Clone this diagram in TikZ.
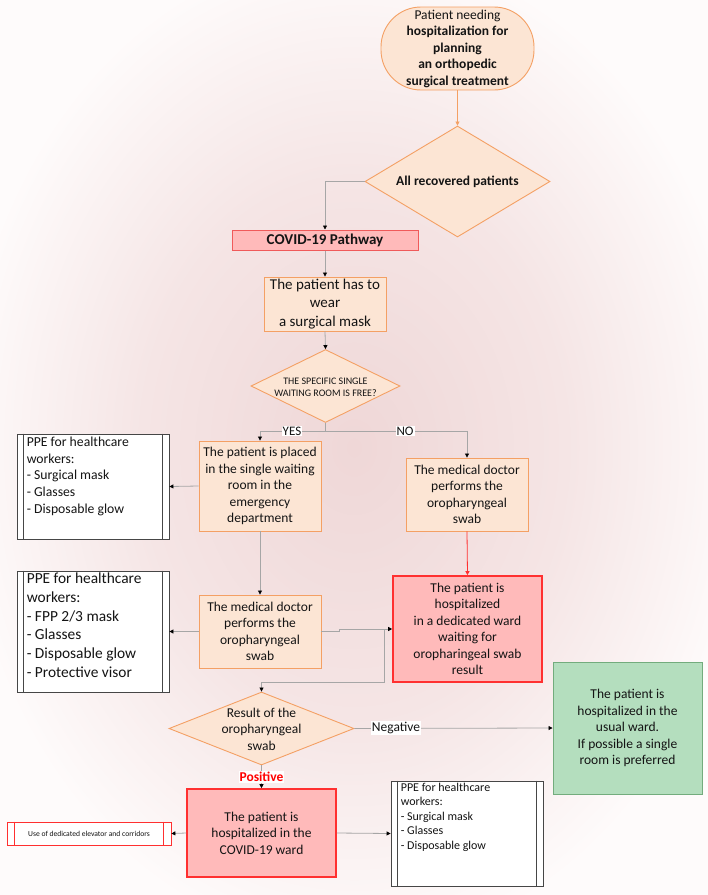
\documentclass[tikz,border=0pt]{standalone}
\usepackage{fontspec}
\setmainfont{Carlito}
\usetikzlibrary{shapes.geometric,arrows.meta}
\definecolor{bgA}{RGB}{239,215,215}
\definecolor{bgB}{RGB}{245,229,229}
\definecolor{bgC}{RGB}{254,251,251}
\definecolor{peach}{RGB}{252,229,212}
\definecolor{orng}{RGB}{244,160,100}
\definecolor{pinkf}{RGB}{255,186,186}
\definecolor{redb}{RGB}{255,48,48}
\definecolor{covb}{RGB}{240,90,90}
\definecolor{greenf}{RGB}{180,222,190}
\definecolor{greenb}{RGB}{115,172,125}
\definecolor{conng}{RGB}{166,166,166}
\definecolor{txt}{RGB}{20,20,20}
\definecolor{ppeb}{RGB}{70,70,70}
\pgfdeclareradialshading{bgrad}{\pgfpoint{0bp}{0bp}}{color(0bp)=(bgA); color(15bp)=(bgB); color(28bp)=(bgC); color(50bp)=(bgC)}
\newcommand{\fsz}[2]{\fontsize{#1}{#2}\selectfont}
\tikzset{
  base/.style={draw, inner sep=1pt, align=center, text=txt, font=\fsz{13.5}{16.5}},
  pbox/.style={base, fill=peach, draw=orng, line width=0.9pt},
  rbox/.style={base, fill=pinkf, draw=redb, line width=1.6pt},
  gbox/.style={base, fill=greenf, draw=greenb, line width=0.9pt},
  dia/.style={diamond, draw=orng, fill=peach, line width=0.9pt, inner sep=0pt},
  ppebox/.style={draw=ppeb, fill=white, line width=0.8pt, inner sep=0pt},
  ppetext/.style={inner sep=0pt, align=left, anchor=north west, text=txt},
  conn/.style={draw=conng, line width=0.8pt, -{Triangle[length=4pt,width=4pt,color=black]}},
  plain/.style={draw=conng, line width=0.8pt},
  lbl/.style={fill=white, inner sep=1pt, text=txt, font=\fsz{13}{15}},
}
\begin{document}
\begin{tikzpicture}[x=1pt,y=-1pt]
\useasboundingbox (0,0) rectangle (708,895);
\shade[shading=bgrad] (0,0) rectangle (708,895);

% nodes
\node[pbox, rounded corners=40pt, minimum width=153, minimum height=83] (top) at (457.5,48.5)
  {Patient needing\\\textbf{hospitalization for}\\\textbf{planning}\\\textbf{an orthopedic}\\\textbf{surgical treatment}};
\node[dia, minimum width=185, minimum height=111] (d1) at (457.5,181.5) {};
\node[text=txt, font=\fsz{13.5}{16.5}\bfseries] (d1t) at (d1) {All recovered patients};
\node[base, fill=pinkf, draw=covb, line width=1pt, minimum width=186, minimum height=20, inner sep=0pt,
  font=\fsz{15}{17}\bfseries] (cov) at (325,240) {COVID-19 Pathway};
\node[pbox, minimum width=122, minimum height=54, font=\fsz{15}{18.5}] (mask) at (325,304)
  {The patient has to\\wear\\a surgical mask};
\node[dia, minimum width=149, minimum height=73] (d2) at (325.5,386) {};
\node[text=txt, align=center, font=\fsz{10}{12}] (d2t) at (325.5,387) {THE SPECIFIC SINGLE\\WAITING ROOM IS FREE?};
\node[pbox, minimum width=122, minimum height=90] (yes) at (260,486)
  {The patient is placed\\in the single waiting\\room in the\\emergency\\department};
\node[pbox, minimum width=122, minimum height=73] (no) at (467,494.5)
  {The medical doctor\\performs the\\oropharyngeal\\swab};
\node[rbox, minimum width=149, minimum height=106] (red1) at (467.5,629)
  {The patient is\\hospitalized\\in a dedicated ward\\waiting for\\oropharingeal swab\\result};
\node[pbox, minimum width=122, minimum height=73] (box2) at (260,631.5)
  {The medical doctor\\performs the\\oropharyngeal\\swab};
\node[dia, minimum width=185, minimum height=73] (d3) at (261.5,728.5) {};
\node[text=txt, align=center, font=\fsz{13.5}{16.4}] (d3t) at (261.5,729) {Result of the\\oropharyngeal\\swab};
\node[gbox, minimum width=149, minimum height=132] (green) at (627.5,728)
  {The patient is\\hospitalized in the\\usual ward.\\If possible a single\\room is preferred};
\node[rbox, minimum width=149, minimum height=88] (red2) at (261.5,833)
  {The patient is\\hospitalized in the\\COVID-19 ward};

% PPE boxes
\node[ppebox, minimum width=152, minimum height=105] (ppe1) at (93,486.5) {};
\node[ppetext, font=\fsz{13.7}{16.7}] (ppe1t) at ([xshift=10pt,yshift=-3pt]ppe1.north west)
  {PPE for healthcare\\workers:\\- Surgical mask\\- Glasses\\- Disposable glow};
\node[ppebox, minimum width=152, minimum height=121] (ppe2) at (93,631.5) {};
\node[ppetext, font=\fsz{15.4}{18.8}] (ppe2t) at ([xshift=10pt,yshift=-2pt]ppe2.north west)
  {PPE for healthcare\\workers:\\- FPP 2/3 mask\\- Glasses\\- Disposable glow\\- Protective visor};
\node[ppebox, minimum width=152, minimum height=105] (ppe3) at (467,833.5) {};
\node[ppetext, font=\fsz{12}{14.6}] (ppe3t) at ([xshift=10pt,yshift=-2pt]ppe3.north west)
  {PPE for healthcare\\workers:\\- Surgical mask\\- Glasses\\- Disposable glow};
\node[draw=redb, fill=white, line width=0.8pt, inner sep=0pt, minimum width=164, minimum height=23,
  text=txt, font=\fsz{7.6}{9}] (elev) at (89,833.5) {Use of dedicated elevator and corridors};
\foreach \b in {ppe1,ppe2,ppe3}{
  \draw[ppeb, line width=0.8pt] ([xshift=7pt]\b.north west) -- ([xshift=7pt]\b.south west);
  \draw[ppeb, line width=0.8pt] ([xshift=-7pt]\b.north east) -- ([xshift=-7pt]\b.south east);
}
\draw[redb, line width=0.8pt] ([xshift=8pt]elev.north west) -- ([xshift=8pt]elev.south west);
\draw[redb, line width=0.8pt] ([xshift=-8pt]elev.north east) -- ([xshift=-8pt]elev.south east);

% connectors
\draw[draw=orng, line width=0.8pt, -{Triangle[length=4pt,width=4pt,color=orng]}] (top.south) -- (d1.north);
\draw[conn] (d1.west) -| (cov.north);
\draw[conn] (cov.south) -- (mask.north);
\draw[conn] (mask.south) -- (d2.north);
\coordinate (split) at (325.5,431);
\draw[plain] (d2.south) -- (split);
\draw[conn] (split) -| (yes.north);
\draw[conn] (split) -| (no.north);
\node[lbl] (yeslbl) at (292,431) {YES};
\node[lbl] (nolbl) at (405,431) {NO};
\draw[conn] (yes.west) -- (ppe1.east);
\draw[conn] (yes.south) -- (box2.north);
\draw[draw=redb, line width=0.8pt, -{Triangle[length=4pt,width=4pt,color=redb]}] (no.south) -- (red1.north);
\draw[conn] (box2.west) -- (ppe2.east);
\draw[conn] (box2.east) -- ++(18,0) |- (red1.west);
\coordinate (junc) at (384,629);
\draw[conn] (junc) -- (384,682) -| (d3.north);
\draw[conn] (d3.east) -- (green.west);
\node[lbl, font=\fsz{13.5}{16}] (neglbl) at (396,728) {Negative};
\draw[conn] (d3.south) -- (red2.north);
\node[lbl, text=red, font=\fsz{13.5}{16}\bfseries] (poslbl) at (261.5,777) {Positive};
\draw[conn] (red2.west) -- (elev.east);
\draw[conn] (red2.east) -- (ppe3.west);
\end{tikzpicture}
\end{document}
